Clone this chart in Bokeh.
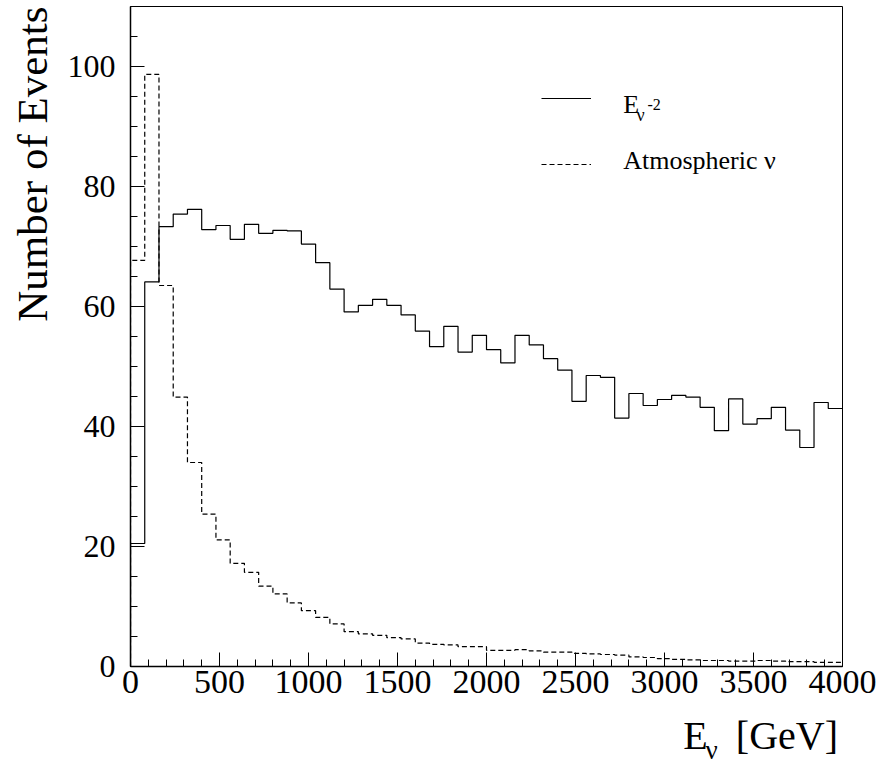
import numpy as np
from bokeh.plotting import figure
from bokeh.layouts import column
from bokeh.models import (Range1d, SingleIntervalTicker, Label, Legend, LegendItem, Title)
from bokeh.core.properties import value
from bokeh.embed import file_html
from bokeh.resources import INLINE

# ---- data (80 GeV bins from 0 to 4000 GeV) ----
bin_width = 80
n_bins = 50
signal_e2 = [20.5, 64.1, 73.3, 75.4, 76.2, 72.8, 73.5, 71.2, 73.7, 72.2,
             72.7, 72.6, 70.4, 67.3, 62.9, 59.1, 60.2, 61.2, 60.2, 58.6,
             55.9, 53.3, 56.7, 52.4, 55.2, 52.8, 50.6, 55.2, 53.6, 51.3,
             49.4, 44.2, 48.5, 48.2, 41.4, 45.5, 43.5, 44.5, 45.2, 44.9,
             43.2, 39.3, 44.6, 40.4, 41.3, 43.2, 39.4, 36.5, 44.0, 43.0]
atmospheric = [67.7, 98.7, 63.5, 44.9, 34.0, 25.4, 21.1, 17.2, 15.7, 13.4,
               12.1, 10.6, 9.3, 8.2, 7.1, 5.8, 5.45, 5.2, 4.8, 4.6,
               3.9, 3.7, 3.6, 3.3, 3.3, 2.7, 2.7, 2.8, 2.6, 2.4,
               2.4, 2.2, 2.1, 2.0, 1.9, 1.6, 1.5, 1.3, 1.2, 1.1,
               1.0, 1.0, 0.9, 0.9, 1.0, 0.9, 0.8, 0.8, 0.7, 0.7]
x_label_main = "E"
x_label_sub = "ν"
x_label_unit = "[GeV]"
y_label = "Number of Events"
leg1_main, leg1_sub, leg1_sup = "E", "ν", "-2"
leg2 = "Atmospheric ν"

edges = [i * bin_width for i in range(n_bins + 1)]


def step_xy(vals):
    xs = [edges[0]] + edges
    ys = [0] + list(vals) + [vals[-1]]
    return xs, ys


FONT = "Liberation Serif"
SHIFT = 0.385  # baseline correction (fraction of font size)
LEFT, RIGHT = 130, 39

p = figure(width=881, height=712, output_backend="svg", toolbar_location=None,
           x_range=Range1d(0, 4000), y_range=Range1d(0, 110),
           min_border_left=LEFT, min_border_right=RIGHT, min_border_top=6,
           min_border_bottom=46, frame_width=712, frame_height=660)
p.background_fill_color = "white"
p.border_fill_color = "white"
p.xgrid.visible = False
p.ygrid.visible = False
p.outline_line_color = "black"
p.outline_line_width = 1

sx, sy = step_xy(signal_e2)
r1 = p.step(sx, sy, mode="after", line_color="black", line_width=1.2)
ax, ay = step_xy(atmospheric)
r2 = p.step(ax, ay, mode="after", line_color="black", line_width=1.2,
            line_dash="5 3")

# axes
p.xaxis.ticker = SingleIntervalTicker(interval=500, num_minor_ticks=5)
p.yaxis.ticker = SingleIntervalTicker(interval=20, num_minor_ticks=4)
for ax_ in (p.xaxis[0], p.yaxis[0]):
    ax_.major_tick_in = 14
    ax_.major_tick_out = 0
    ax_.minor_tick_in = 7
    ax_.minor_tick_out = 0
    ax_.axis_line_color = "black"
    ax_.axis_line_width = 1.5
    ax_.major_tick_line_color = "black"
    ax_.minor_tick_line_color = "black"
    ax_.major_label_text_font = FONT
    ax_.major_label_text_color = "black"

p.xaxis.major_label_text_font_size = "34px"
p.xaxis.major_label_standoff = 4
p.yaxis.major_label_text_font_size = "32px"
p.yaxis.major_label_standoff = 15

# y-axis title, aligned to the top of the axis (ROOT style)
p.add_layout(Title(text=y_label, align="right", vertical_align="top",
                   text_font=FONT, text_font_size="43px",
                   text_font_style="normal", text_color="black",
                   standoff=13), "left")

lab_kw = dict(x_units="screen", y_units="screen", text_font=FONT,
              text_color="black", text_baseline="alphabetic")


def lab(fig, x, y, text, size, **kw):
    fig.add_layout(Label(x=x, y=y + SHIFT * size, text=text,
                         text_font_size=f"{size}px", **lab_kw, **kw))


# legend: glyph samples via Bokeh legend, texts as labels
legend = Legend(items=[LegendItem(label=value(" "), renderers=[r1]),
                       LegendItem(label=value(" "), renderers=[r2])],
                location=(411, 492), glyph_width=50, glyph_height=20,
                label_height=20, label_width=0, label_standoff=0, spacing=46,
                padding=0, margin=0, border_line_color=None,
                background_fill_alpha=0, label_text_font_size="1px")
p.add_layout(legend)

lab(p, 492.7, 552, leg1_main, 26)
lab(p, 506, 544.5, leg1_sub, 18)
lab(p, 517, 556, leg1_sup, 16)
lab(p, 492.7, 495.5, leg2, 26)

# x-axis title strip (E with subscript nu, [GeV]); frame aligned with main plot
p2 = figure(width=881, height=53, output_backend="svg", toolbar_location=None,
            x_range=Range1d(0, 712), y_range=Range1d(0, 53),
            x_axis_location=None, y_axis_location=None,
            min_border_left=LEFT, min_border_right=RIGHT,
            min_border_top=0, min_border_bottom=0,
            frame_width=712, frame_height=53)
p2.outline_line_color = None
p2.background_fill_color = "white"
p2.border_fill_color = "white"
p2.grid.visible = False
# baseline of E at 750 px from the page top -> 15 px above the strip bottom
lab(p2, 682.7 - LEFT, 15, x_label_main, 40)
lab(p2, 705 - LEFT, 5, x_label_sub, 27)
lab(p2, 837.5 - LEFT, 15, x_label_unit, 40, text_align="right")

layout = column(p, p2, spacing=0)
open("out.html", "w").write(file_html(layout, INLINE))
